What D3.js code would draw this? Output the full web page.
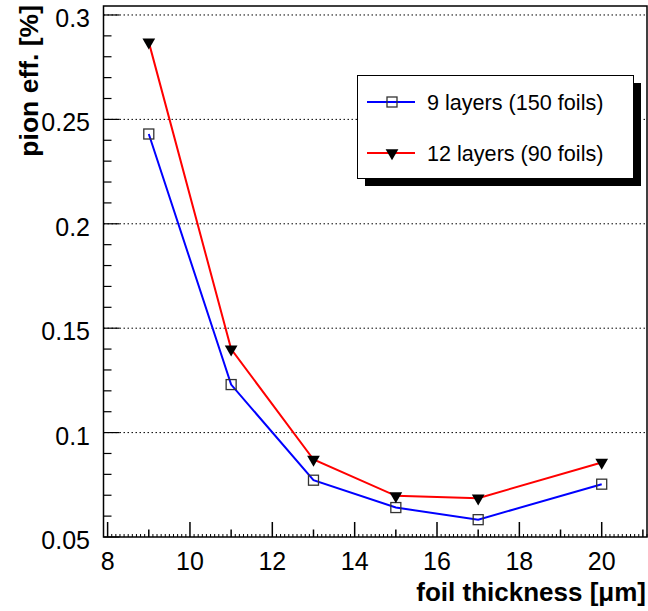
<!DOCTYPE html>
<html><head><meta charset="utf-8">
<script src="https://cdn.jsdelivr.net/npm/d3@7"></script>
<style>body{margin:0;background:#fff}svg{display:block}text{font-family:"Liberation Sans",Arial,Helvetica,sans-serif}</style>
</head><body>
<svg id="c" width="648" height="611"></svg>
<script>
const thickness = [9, 11, 13, 15, 17, 20];
const eff9 = [0.243, 0.123, 0.0772, 0.0641, 0.0583, 0.0753];
const eff12 = [0.287, 0.140, 0.0871, 0.0697, 0.0686, 0.0857];
const seriesNames = ["9 layers (150 foils)", "12 layers (90 foils)"];
const xTicks = [8, 10, 12, 14, 16, 18, 20];
const yTicks = [0.05, 0.1, 0.15, 0.2, 0.25, 0.3];

const svg = d3.select("#c");
const L = 103.5, R = 647, T = 6, B = 537;
const x = d3.scaleLinear().domain([7.9, 21.1]).range([L, R]);
const y = d3.scaleLinear().domain([0.05, 0.3043]).range([B, T]);

// grid
svg.append("g").selectAll("line").data(yTicks.filter(v => v > 0.05)).join("line")
  .attr("x1", L).attr("x2", R).attr("y1", d => y(d)).attr("y2", d => y(d))
  .attr("stroke", "#000").attr("stroke-width", 1).attr("stroke-dasharray", "1.5,2.5");

// y ticks
const yMinor = d3.range(0.05, 0.3041, 0.01);
svg.append("g").selectAll("line").data(yMinor).join("line")
  .attr("x1", L).attr("x2", d => L + (Math.abs(Math.round(d * 20) - d * 20) < 1e-6 ? 16 : 8))
  .attr("y1", d => y(d)).attr("y2", d => y(d)).attr("stroke", "#000").attr("stroke-width", 1.2);
// x ticks
const xTert = d3.range(79, 212).map(v => v / 10);
svg.append("g").selectAll("line").data(xTert).join("line")
  .attr("x1", d => x(d)).attr("x2", d => x(d)).attr("y1", B)
  .attr("y2", d => {
    const r = Math.round(d);
    if (Math.abs(d - r) < 1e-6) return B - (r % 2 === 0 ? 15 : 7.5);
    return B - 3;
  })
  .attr("stroke", "#000").attr("stroke-width", d => Math.abs(d - Math.round(d)) < 1e-6 ? 1.5 : 1);

// frame
svg.append("rect").attr("x", L).attr("y", T).attr("width", R - L).attr("height", B - T)
  .attr("fill", "none").attr("stroke", "#000").attr("stroke-width", 1.5);

// tick labels
svg.append("g").selectAll("text").data(yTicks).join("text")
  .attr("x", 90).attr("y", d => y(d) + 12).attr("text-anchor", "end")
  .attr("font-size", 25).text(d => d3.format("")(d));
svg.append("g").selectAll("text").data(xTicks).join("text")
  .attr("x", d => x(d)).attr("y", 570).attr("text-anchor", "middle")
  .attr("font-size", 25).text(d => d);

// axis titles
svg.append("text").attr("x", 646).attr("y", 601).attr("text-anchor", "end")
  .attr("font-size", 26).attr("font-weight", "bold").text("foil thickness [\u03bcm]");
svg.append("text").attr("transform", "translate(38,5) rotate(-90)").attr("text-anchor", "end")
  .attr("font-size", 26.5).attr("font-weight", "bold").text("pion eff. [%]");

const line = d3.line().x((d, i) => x(thickness[i])).y(d => y(d));
const tri = d3.symbol().type(d3.symbolTriangle).size(70);

function drawSeries(vals, color, kind) {
  svg.append("path").attr("d", line(vals)).attr("fill", "none").attr("stroke", color).attr("stroke-width", 2);
  const g = svg.append("g");
  vals.forEach((v, i) => {
    if (kind === "sq") {
      g.append("rect").attr("x", x(thickness[i]) - 5).attr("y", y(v) - 5).attr("width", 10).attr("height", 10)
        .attr("fill", "none").attr("stroke", "#333").attr("stroke-width", 1.3);
    } else {
      g.append("path").attr("d", tri()).attr("transform", `translate(${x(thickness[i])},${y(v)}) rotate(180)`)
        .attr("fill", "#000");
    }
  });
}
drawSeries(eff9, "#0000ff", "sq");
drawSeries(eff12, "#ff0000", "tri");

// legend
const lg = svg.append("g");
lg.append("rect").attr("x", 365).attr("y", 83).attr("width", 276).attr("height", 103).attr("fill", "#000");
lg.append("rect").attr("x", 357.5).attr("y", 75.5).attr("width", 276).attr("height", 103)
  .attr("fill", "#fff").attr("stroke", "#000").attr("stroke-width", 1);
const ly = [102, 153];
seriesNames.forEach((n, i) => {
  const c = i === 0 ? "#0000ff" : "#ff0000";
  lg.append("line").attr("x1", 367).attr("x2", 415).attr("y1", ly[i]).attr("y2", ly[i]).attr("stroke", c).attr("stroke-width", 2);
  if (i === 0) {
    lg.append("rect").attr("x", 387).attr("y", ly[i] - 5).attr("width", 10).attr("height", 10)
      .attr("fill", "none").attr("stroke", "#333").attr("stroke-width", 1.3);
  } else {
    lg.append("path").attr("d", tri()).attr("transform", `translate(392,${ly[i]}) rotate(180)`).attr("fill", "#000");
  }
  lg.append("text").attr("x", 427).attr("y", ly[i] + 7.5).attr("font-size", 21.6).text(n);
});
</script>
</body></html>
